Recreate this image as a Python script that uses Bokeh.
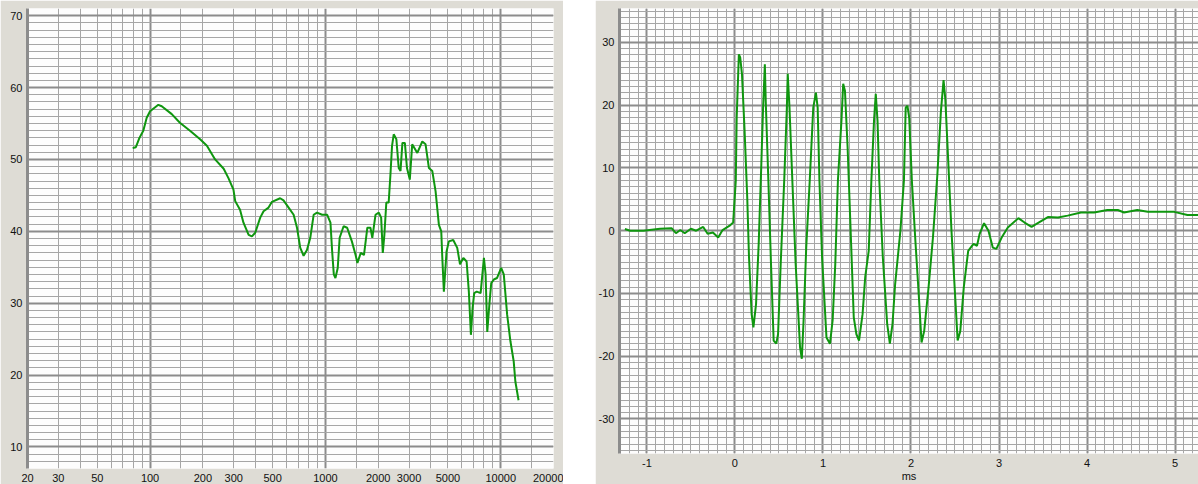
from bokeh.plotting import figure
from bokeh.layouts import row, column
from bokeh.models import FixedTicker, NumeralTickFormatter, Range1d
from bokeh.embed import file_html
from bokeh.resources import INLINE

# ---------------- data: frequency response (left) ----------------
freq_hz = [79.6, 83, 87, 91.5, 95.7, 100, 111.5, 116.6, 133, 148,
           169, 193, 211, 235, 263, 280, 299, 306, 326, 341,
           365, 381, 398, 425, 444, 474, 496, 552, 577, 617,
           659, 689, 719, 751, 785, 820, 857, 896, 958, 1024,
           1069, 1093, 1117, 1141, 1176, 1206, 1270, 1331, 1416, 1487,
           1523, 1592, 1660, 1735, 1807, 1852, 1931, 2017, 2080, 2125,
           2170, 2226, 2296, 2350, 2400, 2453, 2540, 2620, 2682, 2750,
           2840, 2920, 3030, 3127, 3345, 3570, 3727, 3895, 4070, 4250,
           4440, 4580, 4640, 4740, 4910, 5060, 5360, 5650, 5860, 6120,
           6390, 6580, 6760, 6910, 7060, 7300, 7680, 8020, 8200, 8380,
           8640, 8830, 9140, 9520, 10060, 10410, 10880, 11360, 11860, 12120,
           12640]
spl_db = [51.6, 51.7, 53.0, 54.0, 55.8, 56.7, 57.6, 57.4, 56.3, 55.1,
          54.0, 52.8, 51.9, 50.0, 48.7, 47.4, 45.8, 44.2, 43.0, 41.2,
          39.5, 39.3, 39.8, 41.9, 42.8, 43.3, 44.1, 44.6, 44.3, 43.3,
          42.3, 40.5, 37.7, 36.6, 37.4, 39.1, 42.3, 42.6, 42.3, 42.3,
          41.2, 37.2, 34.0, 33.5, 34.9, 39.1, 40.7, 40.5, 38.6, 36.7,
          35.6, 37.0, 36.7, 40.5, 40.5, 39.1, 42.3, 42.6, 41.9, 37.0,
          39.5, 44.0, 44.0, 47.9, 51.9, 53.5, 52.8, 48.8, 48.4, 52.3,
          52.3, 48.8, 47.2, 52.1, 50.9, 52.5, 52.1, 48.8, 48.4, 45.6,
          40.9, 40.0, 36.5, 31.6, 37.2, 38.6, 38.8, 37.7, 35.4, 36.3,
          35.8, 31.6, 25.6, 29.3, 31.4, 31.6, 31.4, 36.3, 34.0, 26.0,
          30.2, 32.8, 33.3, 33.5, 34.9, 34.0, 28.4, 24.7, 21.9, 19.1,
          16.5]

freq_tick_labels = [20, 30, 50, 100, 200, 300, 500, 1000, 2000, 3000, 5000, 10000, 20000]
freq_major_grid = [100, 1000, 10000]
freq_minor_grid = [20, 30, 40, 50, 60, 70, 80, 90,
                   150, 200, 300, 400, 500, 600, 700, 800, 900,
                   1500, 2000, 3000, 4000, 5000, 6000, 7000, 8000, 9000,
                   15000]
spl_ticks = [10, 20, 30, 40, 50, 60, 70]

# ---------------- data: impulse response (right) ----------------
time_ms = [-1.25, -1.19, -1.04, -0.85, -0.72, -0.67, -0.62, -0.57, -0.50, -0.44,
           -0.36, -0.31, -0.25, -0.19, -0.14, -0.06, -0.02, 0.01, 0.02, 0.045,
           0.06, 0.08, 0.11, 0.14, 0.16, 0.19, 0.21, 0.24, 0.27, 0.30,
           0.32, 0.34, 0.35, 0.38, 0.41, 0.44, 0.47, 0.49, 0.52, 0.56,
           0.59, 0.60, 0.62, 0.66, 0.69, 0.74, 0.76, 0.78, 0.81, 0.85,
           0.89, 0.92, 0.94, 0.96, 0.99, 1.04, 1.08, 1.11, 1.14, 1.17,
           1.21, 1.23, 1.25, 1.28, 1.32, 1.35, 1.38, 1.41, 1.45, 1.48,
           1.52, 1.55, 1.58, 1.60, 1.62, 1.64, 1.68, 1.73, 1.76, 1.79,
           1.82, 1.88, 1.92, 1.94, 1.96, 1.98, 2.01, 2.05, 2.09, 2.12,
           2.15, 2.20, 2.25, 2.30, 2.34, 2.37, 2.39, 2.42, 2.46, 2.50,
           2.53, 2.56, 2.60, 2.65, 2.71, 2.75, 2.78, 2.83, 2.88, 2.93,
           2.97, 3.03, 3.10, 3.22, 3.29, 3.37, 3.44, 3.56, 3.67, 3.78,
           3.93, 4.08, 4.23, 4.35, 4.42, 4.57, 4.69, 4.99, 5.14, 5.27]
amplitude = [0.27, 0.0, 0.0, 0.3, 0.4, -0.4, 0.1, -0.4, 0.3, 0.0,
             0.6, -0.5, -0.3, -1.1, 0.1, 0.8, 1.3, 8.0, 18.0, 28.1,
             27.6, 25.0, 15.9, 5.3, -4.2, -13.3, -15.4, -11.7, -2.1, 10.6,
             19.6, 26.5, 20.7, 8.0, -5.3, -17.5, -18.0, -16.5, -5.3, 8.0,
             19.6, 25.0, 19.6, 5.3, -5.3, -18.6, -20.4, -14.3, -2.7, 8.0,
             19.6, 22.0, 19.6, 8.0, -4.2, -17.0, -18.0, -14.3, -5.3, 8.0,
             17.5, 23.4, 22.3, 13.3, -2.1, -13.8, -16.5, -17.5, -13.3, -7.4,
             -3.2, 8.0, 17.5, 21.8, 17.5, 8.0, -4.2, -14.9, -18.0, -14.9,
             -8.5, 0.0, 8.0, 19.6, 19.9, 18.0, 8.0, -1.6, -10.6, -17.8,
             -16.0, -9.0, -1.0, 9.0, 19.0, 24.0, 21.0, 12.0, 0.0, -10.0,
             -17.5, -16.0, -9.0, -3.2, -2.1, -2.4, -0.5, 1.2, 0.0, -2.7,
             -2.9, -1.1, 0.5, 2.0, 1.3, 0.6, 1.2, 2.2, 2.1, 2.4,
             2.9, 2.9, 3.3, 3.3, 2.9, 3.3, 3.0, 3.0, 2.5, 2.5]

time_ticks = [-1, 0, 1, 2, 3, 4, 5]
time_major_grid = [-1, 0, 1, 2, 3, 4, 5]
time_minor_grid = [round(-1.3 + 0.1 * i, 1) for i in range(67)]
amp_ticks = [-30, -20, -10, 0, 10, 20, 30]

# ---------------- styles ----------------
PANEL = "#dedcd5"
GREEN = "#0f960f"
MAJOR = "#8c8c8c"
MINOR = "#a6a6a6"
FONT = "Liberation Sans"
FS = "11px"


def style(p):
    p.background_fill_color = "#fdfdfd"
    p.border_fill_color = PANEL
    p.outline_line_color = None
    for ax in (p.xaxis[0], p.yaxis[0]):
        ax.axis_label = None
        ax.major_tick_line_color = None
        ax.minor_tick_line_color = None
        ax.major_tick_out = 0
        ax.major_tick_in = 0
        ax.minor_tick_out = 0
        ax.minor_tick_in = 0
        ax.major_label_text_font = FONT
        ax.major_label_text_font_size = FS
        ax.major_label_text_color = "#111111"
    p.xaxis[0].axis_line_color = None
    p.xaxis[0].major_label_standoff = 5
    p.yaxis[0].axis_line_color = MAJOR
    p.yaxis[0].axis_line_width = 3
    p.yaxis[0].major_label_standoff = 5
    for g in (p.xgrid[0], p.ygrid[0]):
        g.grid_line_color = MAJOR
        g.grid_line_width = 2
        g.minor_grid_line_color = MINOR
        g.minor_grid_line_width = 1


# ---------------- left: frequency response ----------------
p1 = figure(width=563, height=484, x_axis_type="log",
            x_range=Range1d(20, 20000), y_range=Range1d(7, 71),
            output_backend="svg", toolbar_location=None,
            min_border_left=27, min_border_right=10,
            min_border_top=8, min_border_bottom=16)
style(p1)
p1.xaxis[0].ticker = FixedTicker(ticks=freq_tick_labels)
p1.xaxis[0].formatter = NumeralTickFormatter(format="0")
p1.yaxis[0].ticker = FixedTicker(ticks=spl_ticks)
p1.xgrid[0].ticker = FixedTicker(ticks=freq_major_grid, minor_ticks=freq_minor_grid)
p1.ygrid[0].ticker = FixedTicker(ticks=spl_ticks, minor_ticks=list(range(7, 72)))
p1.line(freq_hz, spl_db, line_color=GREEN, line_width=2)

# ---------------- right: impulse response ----------------
p2 = figure(width=603, height=484,
            x_range=Range1d(-1.311, 5.266), y_range=Range1d(-35.5, 35.4),
            output_backend="svg", toolbar_location=None,
            min_border_left=21, min_border_right=0,
            min_border_top=8, min_border_bottom=31)
style(p2)
p2.xaxis[0].ticker = FixedTicker(ticks=time_ticks)
p2.xaxis[0].formatter = NumeralTickFormatter(format="0")
p2.yaxis[0].ticker = FixedTicker(ticks=amp_ticks)
p2.yaxis[0].formatter = NumeralTickFormatter(format="0")
p2.xaxis[0].axis_label = "ms"
p2.xaxis[0].axis_label_text_font = FONT
p2.xaxis[0].axis_label_text_font_size = FS
p2.xaxis[0].axis_label_text_font_style = "normal"
p2.xaxis[0].axis_label_text_color = "#111111"
p2.xaxis[0].axis_label_standoff = 0
p2.xgrid[0].ticker = FixedTicker(ticks=time_major_grid, minor_ticks=time_minor_grid)
p2.ygrid[0].ticker = FixedTicker(ticks=amp_ticks, minor_ticks=list(range(-35, 36)))
p2.line(time_ms, amplitude, line_color=GREEN, line_width=2)

layout = row(column(p1), column(p2), spacing=32)
open("out.html", "w").write(file_html(layout, INLINE))
